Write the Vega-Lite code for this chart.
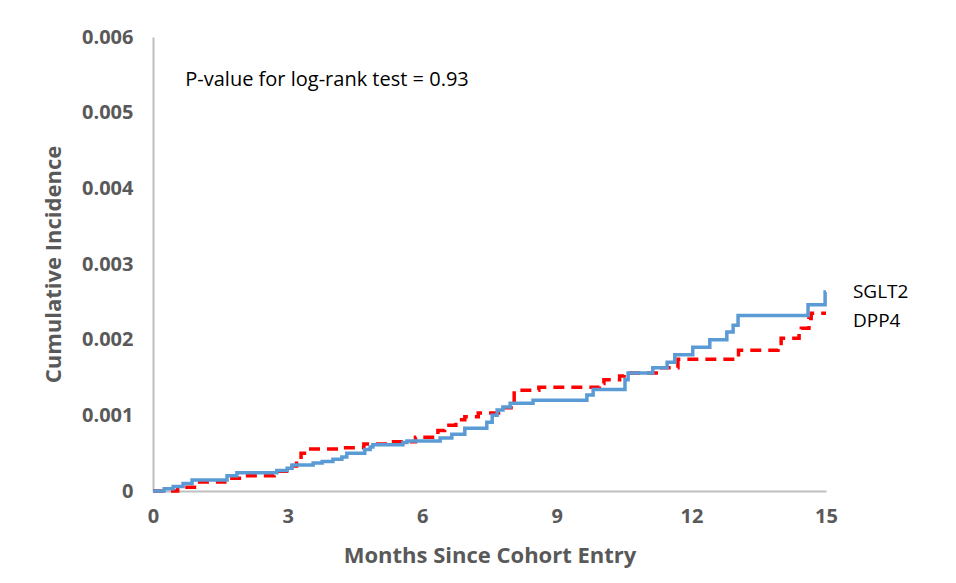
{
  "$schema": "https://vega.github.io/schema/vega-lite/v6.json",
  "width": 673,
  "height": 454,
  "autosize": {"type": "none"},
  "padding": {"left": 153, "top": 37, "right": 130, "bottom": 92},
  "background": "white",
  "config": {"view": {"stroke": null}, "font": "Open Sans"},
  "datasets": {
    "curves": [
      {"series": "SGLT2", "month": 0, "ci": 0},
      {"series": "SGLT2", "month": 0.25, "ci": 0.00003},
      {"series": "SGLT2", "month": 0.45, "ci": 0.00006},
      {"series": "SGLT2", "month": 0.67, "ci": 0.0001},
      {"series": "SGLT2", "month": 0.87, "ci": 0.000145},
      {"series": "SGLT2", "month": 1.65, "ci": 0.0002},
      {"series": "SGLT2", "month": 1.87, "ci": 0.00024},
      {"series": "SGLT2", "month": 2.76, "ci": 0.00027},
      {"series": "SGLT2", "month": 2.99, "ci": 0.0003},
      {"series": "SGLT2", "month": 3.1, "ci": 0.000345},
      {"series": "SGLT2", "month": 3.57, "ci": 0.00037},
      {"series": "SGLT2", "month": 3.77, "ci": 0.00039},
      {"series": "SGLT2", "month": 4.01, "ci": 0.00042},
      {"series": "SGLT2", "month": 4.21, "ci": 0.00045},
      {"series": "SGLT2", "month": 4.32, "ci": 0.0005},
      {"series": "SGLT2", "month": 4.72, "ci": 0.00055},
      {"series": "SGLT2", "month": 4.84, "ci": 0.00058},
      {"series": "SGLT2", "month": 4.9, "ci": 0.00061},
      {"series": "SGLT2", "month": 5.57, "ci": 0.00064},
      {"series": "SGLT2", "month": 5.66, "ci": 0.00066},
      {"series": "SGLT2", "month": 6.4, "ci": 0.0007},
      {"series": "SGLT2", "month": 6.66, "ci": 0.00075},
      {"series": "SGLT2", "month": 6.95, "ci": 0.00083},
      {"series": "SGLT2", "month": 7.44, "ci": 0.00091},
      {"series": "SGLT2", "month": 7.56, "ci": 0.001},
      {"series": "SGLT2", "month": 7.67, "ci": 0.00107},
      {"series": "SGLT2", "month": 7.8, "ci": 0.00111},
      {"series": "SGLT2", "month": 7.96, "ci": 0.00116},
      {"series": "SGLT2", "month": 8.47, "ci": 0.0012},
      {"series": "SGLT2", "month": 9.67, "ci": 0.00127},
      {"series": "SGLT2", "month": 9.81, "ci": 0.00134},
      {"series": "SGLT2", "month": 10.52, "ci": 0.00147},
      {"series": "SGLT2", "month": 10.59, "ci": 0.00156},
      {"series": "SGLT2", "month": 11.14, "ci": 0.00163},
      {"series": "SGLT2", "month": 11.46, "ci": 0.0017},
      {"series": "SGLT2", "month": 11.63, "ci": 0.0018},
      {"series": "SGLT2", "month": 12.03, "ci": 0.0019},
      {"series": "SGLT2", "month": 12.41, "ci": 0.002},
      {"series": "SGLT2", "month": 12.79, "ci": 0.0021},
      {"series": "SGLT2", "month": 12.93, "ci": 0.00219},
      {"series": "SGLT2", "month": 13.04, "ci": 0.00232},
      {"series": "SGLT2", "month": 14.6, "ci": 0.00246},
      {"series": "SGLT2", "month": 14.98, "ci": 0.00263},
      {"series": "SGLT2", "month": 15, "ci": 0.00263},
      {"series": "DPP4", "month": 0, "ci": 0},
      {"series": "DPP4", "month": 0.55, "ci": 0.00005},
      {"series": "DPP4", "month": 1.0, "ci": 0.00012},
      {"series": "DPP4", "month": 1.6, "ci": 0.00017},
      {"series": "DPP4", "month": 2.05, "ci": 0.0002},
      {"series": "DPP4", "month": 2.7, "ci": 0.00026},
      {"series": "DPP4", "month": 3.1, "ci": 0.00033},
      {"series": "DPP4", "month": 3.2, "ci": 0.00042},
      {"series": "DPP4", "month": 3.3, "ci": 0.0005},
      {"series": "DPP4", "month": 3.45, "ci": 0.000555},
      {"series": "DPP4", "month": 4.2, "ci": 0.00057},
      {"series": "DPP4", "month": 4.7, "ci": 0.00062},
      {"series": "DPP4", "month": 5.3, "ci": 0.00065},
      {"series": "DPP4", "month": 5.85, "ci": 0.00071},
      {"series": "DPP4", "month": 6.35, "ci": 0.0008},
      {"series": "DPP4", "month": 6.5, "ci": 0.00087},
      {"series": "DPP4", "month": 6.75, "ci": 0.00094},
      {"series": "DPP4", "month": 6.95, "ci": 0.00098},
      {"series": "DPP4", "month": 7.25, "ci": 0.00103},
      {"series": "DPP4", "month": 7.7, "ci": 0.0011},
      {"series": "DPP4", "month": 8.05, "ci": 0.00133},
      {"series": "DPP4", "month": 8.6, "ci": 0.00137},
      {"series": "DPP4", "month": 9.95, "ci": 0.00142},
      {"series": "DPP4", "month": 10.05, "ci": 0.00147},
      {"series": "DPP4", "month": 10.4, "ci": 0.00152},
      {"series": "DPP4", "month": 10.5, "ci": 0.00156},
      {"series": "DPP4", "month": 11.3, "ci": 0.00163},
      {"series": "DPP4", "month": 11.7, "ci": 0.00174},
      {"series": "DPP4", "month": 12.98, "ci": 0.0018},
      {"series": "DPP4", "month": 13.05, "ci": 0.00186},
      {"series": "DPP4", "month": 13.93, "ci": 0.00195},
      {"series": "DPP4", "month": 14.0, "ci": 0.00202},
      {"series": "DPP4", "month": 14.4, "ci": 0.0021},
      {"series": "DPP4", "month": 14.45, "ci": 0.00215},
      {"series": "DPP4", "month": 14.62, "ci": 0.00228},
      {"series": "DPP4", "month": 14.67, "ci": 0.00235},
      {"series": "DPP4", "month": 15, "ci": 0.00235}
    ],
    "notes": [
      {"label": "P-value for log-rank test = 0.93", "month": 0.72, "ci": 0.00543, "size": 20},
      {"label": "SGLT2", "month": 15.6, "ci": 0.00263, "size": 19},
      {"label": "DPP4", "month": 15.6, "ci": 0.00225, "size": 19}
    ]
  },
  "layer": [
    {
      "data": {"name": "curves"},
      "transform": [{"filter": "datum.series === 'DPP4'"}],
      "mark": {"type": "line", "interpolate": "step-after", "color": "#ff0000", "strokeWidth": 3.5, "strokeDash": [11, 7]},
      "encoding": {
        "x": {"field": "month", "type": "quantitative", "scale": {"domain": [0, 15], "nice": false},
          "axis": {"values": [0, 3, 6, 9, 12, 15], "title": "Months Since Cohort Entry", "grid": false, "ticks": false,
            "domainColor": "#bfbfbf", "domainWidth": 2, "labelFont": "Open Sans", "labelFontWeight": "bold", "labelFontSize": 20,
            "labelColor": "#595959", "labelPadding": 15, "titleFont": "Open Sans", "titleFontWeight": "bold", "titleFontSize": 22,
            "titleColor": "#595959", "titlePadding": 19, "labelFlush": false}},
        "y": {"field": "ci", "type": "quantitative", "scale": {"domain": [0, 0.006], "nice": false},
          "axis": {"values": [0, 0.001, 0.002, 0.003, 0.004, 0.005, 0.006], "labelExpr": "datum.value == 0 ? '0' : format(datum.value, '.3f')",
            "title": "Cumulative Incidence", "grid": false, "ticks": false, "domainColor": "#bfbfbf", "domainWidth": 2,
            "labelFont": "Open Sans", "labelFontWeight": "bold", "labelFontSize": 20, "labelColor": "#595959", "labelPadding": 20,
            "titleFont": "Open Sans", "titleFontWeight": "bold", "titleFontSize": 22, "titleColor": "#595959", "titlePadding": 16}}
      }
    },
    {
      "data": {"name": "curves"},
      "transform": [{"filter": "datum.series === 'SGLT2'"}],
      "mark": {"type": "line", "interpolate": "step-after", "color": "#5b9bd5", "strokeWidth": 3.5},
      "encoding": {
        "x": {"field": "month", "type": "quantitative"},
        "y": {"field": "ci", "type": "quantitative"}
      }
    },
    {
      "data": {"name": "notes"},
      "mark": {"type": "text", "align": "left", "baseline": "middle", "font": "Open Sans", "color": "#000000"},
      "encoding": {
        "x": {"field": "month", "type": "quantitative"},
        "y": {"field": "ci", "type": "quantitative"},
        "text": {"field": "label"},
        "size": {"field": "size", "type": "quantitative", "scale": null}
      }
    }
  ]
}
